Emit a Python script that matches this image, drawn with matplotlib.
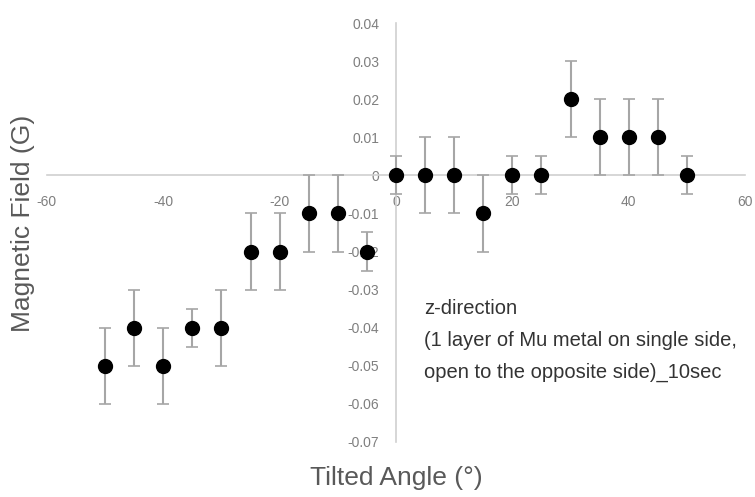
import matplotlib.pyplot as plt

angles = [-50, -45, -40, -35, -30, -25, -20, -15, -10, -5, 0, 5, 10, 15, 20, 25, 30, 35, 40, 45, 50]
field = [-0.05, -0.04, -0.05, -0.04, -0.04, -0.02, -0.02, -0.01, -0.01, -0.02,
         0, 0, 0, -0.01, 0, 0, 0.02, 0.01, 0.01, 0.01, 0]
field_err = [0.01, 0.01, 0.01, 0.005, 0.01, 0.01, 0.01, 0.01, 0.01, 0.005,
             0.005, 0.01, 0.01, 0.01, 0.005, 0.005, 0.01, 0.01, 0.01, 0.01, 0.005]

x_ticks = [-60, -40, -20, 0, 20, 40, 60]
y_ticks = [-0.07, -0.06, -0.05, -0.04, -0.03, -0.02, -0.01, 0, 0.01, 0.02, 0.03, 0.04]

plt.rcParams['font.family'] = ['Liberation Sans', 'DejaVu Sans']

fig = plt.figure(figsize=(7.55, 4.97), dpi=100)
ax = fig.add_axes([0.062, 0.1107, 0.925, 0.843])

ax.errorbar(angles, field, yerr=field_err, fmt='o', color='black', markersize=10,
            ecolor='#a6a6a6', elinewidth=1.5, capsize=4, capthick=1.2, zorder=3)

ax.set_xlim(-60, 60)
ax.set_ylim(-0.07, 0.04)
ax.set_xticks(x_ticks)
ax.set_yticks(y_ticks)
ax.set_xticklabels([str(t) for t in x_ticks])
ax.set_yticklabels(['0' if t == 0 else f'{t:.2f}' for t in y_ticks])

# axes cross at the origin, like the spreadsheet chart
ax.spines['left'].set_position(('data', 0))
ax.spines['bottom'].set_position(('data', 0))
ax.spines['top'].set_visible(False)
ax.spines['right'].set_visible(False)
for s in ['left', 'bottom']:
    ax.spines[s].set_color('#d0d0d0')
    ax.spines[s].set_linewidth(1.2)
ax.tick_params(length=0, labelsize=10, labelcolor='#7f7f7f')
ax.tick_params(axis='x', pad=14)
ax.tick_params(axis='y', pad=12)

fig.text(0.031, 0.55, 'Magnetic Field (G)', rotation=90, ha='center', va='center',
         fontsize=19, color='#595959')
fig.text(0.525, 0.038, 'Tilted Angle (°)', ha='center', va='center',
         fontsize=19, color='#595959')

ax.text(4.8, -0.0325, 'z-direction\n(1 layer of Mu metal on single side,\nopen to the opposite side)_10sec',
        ha='left', va='top', fontsize=14.5, color='#333333', linespacing=1.85)

fig.savefig('out.png', dpi=100)
